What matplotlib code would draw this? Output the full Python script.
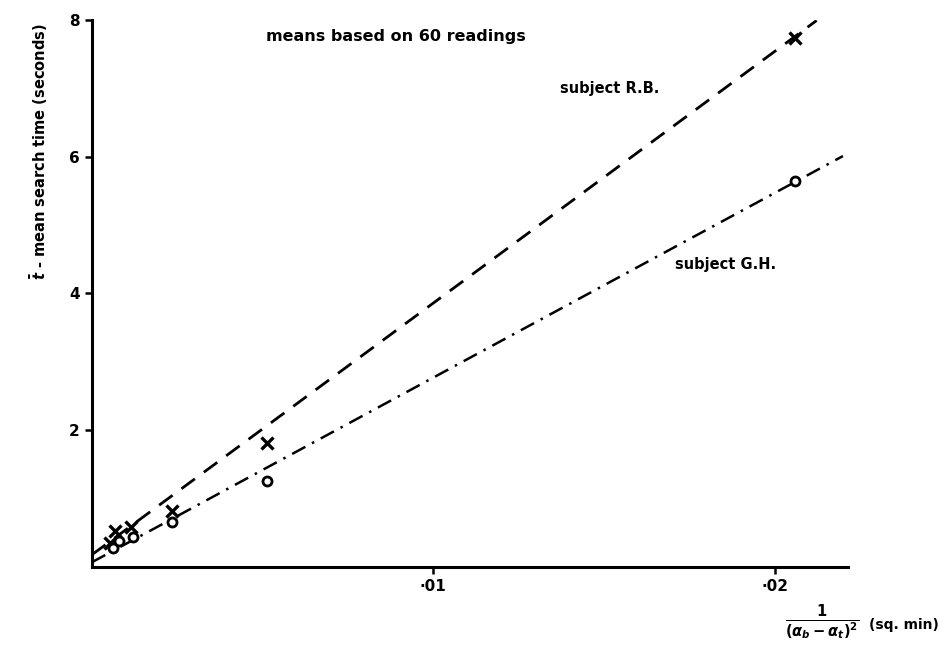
import matplotlib
matplotlib.use("Agg")
import matplotlib.pyplot as plt
import numpy as np

# Mean search time against 1/(angular difference)^2
rb_x = [0.00053, 0.00067, 0.00114, 0.00234, 0.00512, 0.02059]
rb_t = [0.35, 0.53, 0.58, 0.82, 1.82, 7.74]
gh_x = [0.00060, 0.00079, 0.00120, 0.00234, 0.00512, 0.02059]
gh_t = [0.28, 0.38, 0.44, 0.66, 1.26, 5.65]

# fitted straight lines: (intercept, slope, x range)
rb_fit = (0.18, 368.0, (0.0, 0.02123))
gh_fit = (0.07, 270.0, (0.0, 0.0220))

y_ticks = [2, 4, 6, 8]
y_tick_labels = ["2", "4", "6", "8"]
x_ticks = [0.01, 0.02]
x_tick_labels = ["\u00b701", "\u00b702"]

plt.rcParams["font.family"] = ["DejaVu Sans"]
plt.rcParams["font.weight"] = "bold"
plt.rcParams["mathtext.fontset"] = "dejavusans"

fig = plt.figure(figsize=(9.44, 6.45), dpi=100)
ax = fig.add_axes([0.0975, 0.121, 0.8005, 0.848])

def fit_line(fit):
    a, b, (x0, x1) = fit
    xs = np.array([x0, x1])
    return xs, a + b * xs

xs, ys = fit_line(rb_fit)
ax.plot(xs, ys, color="black", lw=2.0, linestyle=(0, (6, 4)))
xs, ys = fit_line(gh_fit)
ax.plot(xs, ys, color="black", lw=1.8, linestyle=(0, (6, 3, 1, 3)))

ax.plot(rb_x, rb_t, linestyle="none", marker="x", markersize=8, mew=2.4, color="black")
ax.plot(gh_x, gh_t, linestyle="none", marker="o", markersize=6.5, mew=2.0,
        markerfacecolor="white", markeredgecolor="black")

ax.set_xlim(0, 0.02214)
ax.set_ylim(0, 8.0)
ax.set_yticks(y_ticks)
ax.set_yticklabels(y_tick_labels, fontsize=11, fontweight="bold")
ax.set_xticks(x_ticks)
ax.set_xticklabels(x_tick_labels, fontsize=11, fontweight="bold")
ax.tick_params(direction="out", length=5, width=1.8, pad=4)

for side in ("top", "right"):
    ax.spines[side].set_visible(False)
for side in ("left", "bottom"):
    ax.spines[side].set_linewidth(2.2)

ax.set_ylabel(r"$\bar{t}$ - mean search time (seconds)", fontsize=10.5,
              fontweight="bold")
ax.yaxis.set_label_coords(-0.056, 0.76)

ax.text(0.0089, 7.76, "means based on 60 readings", fontsize=11.5,
        fontweight="bold", ha="center", va="center")
ax.text(0.0137, 7.0, "subject R.B.", fontsize=10.5, fontweight="bold",
        ha="left", va="center")
ax.text(0.01707, 4.43, "subject G.H.", fontsize=10.5, fontweight="bold",
        ha="left", va="center")

fig.text(0.871, 0.036, r"$\frac{1}{(\alpha_b-\alpha_t)^2}$", fontsize=15,
         ha="center", va="center")
fig.text(0.921, 0.031, "(sq. min)", fontsize=10, fontweight="bold",
         ha="left", va="center")

fig.savefig("out.png", dpi=100)
